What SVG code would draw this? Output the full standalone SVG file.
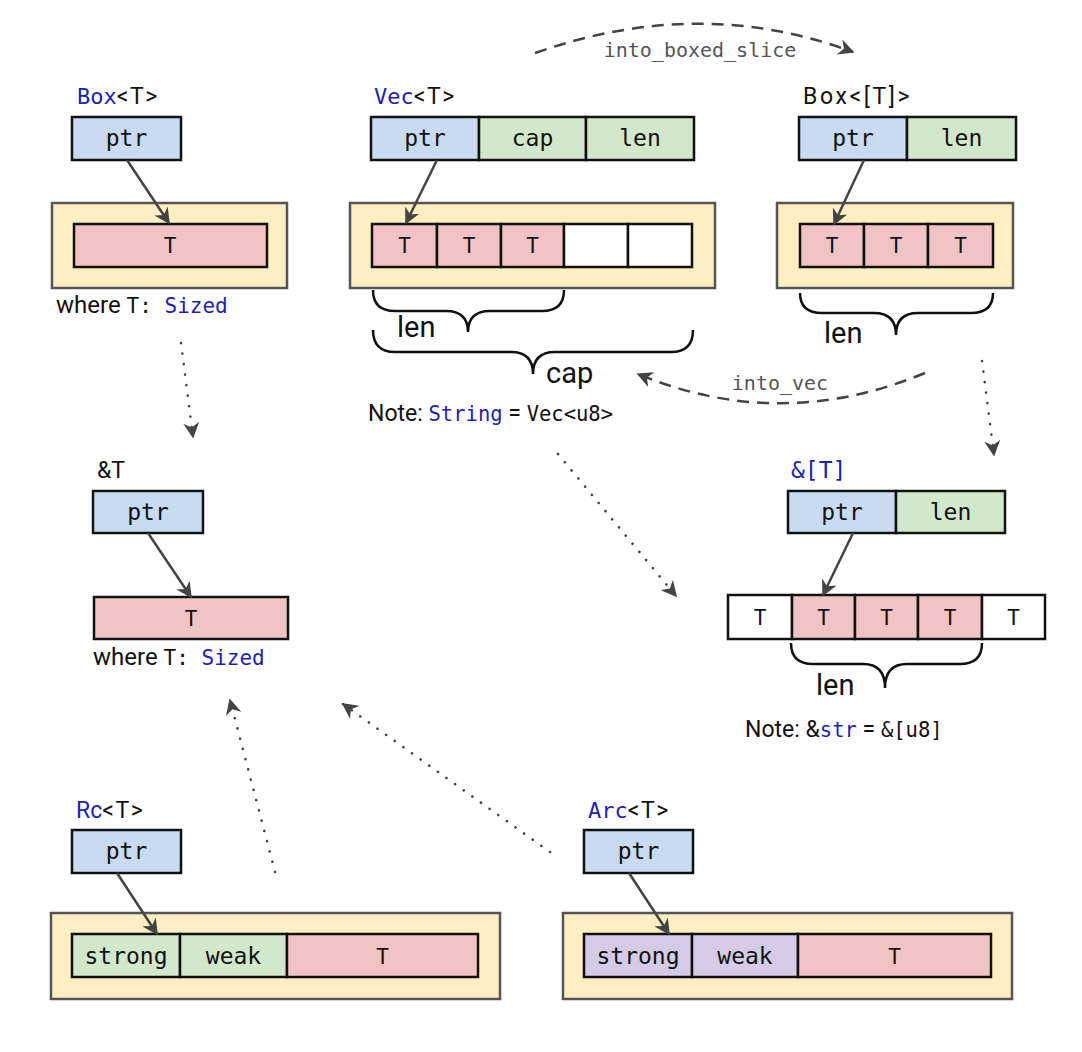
<svg xmlns="http://www.w3.org/2000/svg" width="1082" height="1052" viewBox="0 0 1082 1052">
<defs>
<style>
.bg{fill:#ffffff}
.heap{fill:#fdefc2;stroke:#555;stroke-width:2.5}
.c{stroke:#111;stroke-width:2.5}
.blue{fill:#c8dbf0}
.green{fill:#d2e8cb}
.pink{fill:#f2c3c5}
.white{fill:#ffffff}
.purple{fill:#d5cbe6}
.mono{font-family:"DejaVu Sans Mono","Liberation Mono",monospace}
.sans{font-family:Roboto,"Liberation Sans",sans-serif}
.f{font-size:23px;fill:#111}
.lbl{font-size:23px;fill:#111}
.ctr{text-anchor:middle}
.kw{fill:#1f1fb4}
.ptr{stroke:#444;stroke-width:2.5;fill:none;marker-end:url(#ah)}
.dot{stroke:#444;stroke-width:2.6;fill:none;stroke-dasharray:0.1 10.5;stroke-linecap:round;marker-end:url(#ah)}
.dash{stroke:#444;stroke-width:2.5;fill:none;stroke-dasharray:12 8;marker-end:url(#ah)}
.brace{stroke:#111;stroke-width:2.5;fill:none}
.big{font-size:29px;fill:#111}
.op{font-size:20px;fill:#555}
.cell{font-size:21px}
</style>
<marker id="ah" viewBox="0 0 10 10" refX="9" refY="5" markerWidth="16" markerHeight="16" markerUnits="userSpaceOnUse" orient="auto">
<path d="M0,0 L10,5 L0,10 L3,5 z" fill="#444"/>
</marker>
</defs>
<rect class="bg" x="0" y="0" width="1082" height="1052"/>

<g id="box-t">
<text class="lbl" x="77" y="104"><tspan class="mono kw" font-size="22">Box</tspan><tspan class="sans" letter-spacing="1.5">&lt;T&gt;</tspan></text>
<rect class="c blue" x="72" y="117" width="109" height="43"/>
<text class="mono f ctr" x="126.5" y="146">ptr</text>
<rect class="heap" x="52" y="203" width="235" height="85"/>
<rect class="c pink" x="74" y="224" width="193" height="43"/>
<text class="mono f ctr cell" x="170" y="253">T</text>
<text x="56" y="313" fill="#111"><tspan class="sans" font-size="24">where </tspan><tspan class="mono" font-size="21">T: </tspan><tspan class="mono kw" font-size="21">Sized</tspan></text>
</g>

<g id="vec-t">
<text class="lbl" x="374" y="104"><tspan class="mono kw" font-size="22">Vec</tspan><tspan class="sans" letter-spacing="1.5">&lt;T&gt;</tspan></text>
<rect class="c blue" x="371" y="117" width="108" height="43"/>
<rect class="c green" x="479" y="117" width="107" height="43"/>
<rect class="c green" x="586" y="117" width="108" height="43"/>
<text class="mono f ctr" x="425" y="146">ptr</text>
<text class="mono f ctr" x="532.5" y="146">cap</text>
<text class="mono f ctr" x="640" y="146">len</text>
<rect class="heap" x="350" y="203" width="365" height="85"/>
<rect class="c pink" x="372" y="224" width="65" height="43"/>
<rect class="c pink" x="437" y="224" width="64" height="43"/>
<rect class="c pink" x="501" y="224" width="63" height="43"/>
<rect class="c white" x="564" y="224" width="64" height="43"/>
<rect class="c white" x="628" y="224" width="64" height="43"/>
<text class="mono f ctr cell" x="404.5" y="253">T</text>
<text class="mono f ctr cell" x="469" y="253">T</text>
<text class="mono f ctr cell" x="532.5" y="253">T</text>
<path class="brace" d="M373,290 Q373,311 395,311 L446,311 Q468,311 468,332 Q468,311 490,311 L542,311 Q564,311 564,290"/>
<text class="sans big" x="397" y="337">len</text>
<path class="brace" d="M373,330 Q373,352 395,352 L511,352 Q533,352 533,374 Q533,352 555,352 L671,352 Q693,352 693,330"/>
<text class="sans big" x="546" y="383">cap</text>
<text x="368" y="421" fill="#111"><tspan class="sans" font-size="23">Note: </tspan><tspan class="mono kw" font-size="20.5">String</tspan><tspan class="sans" font-size="23"> = </tspan><tspan class="mono" font-size="20.5">Vec&lt;u8&gt;</tspan></text>
</g>

<g id="box-slice">
<text class="sans lbl" x="803" y="104" letter-spacing="2.6">Box&lt;[T]&gt;</text>
<rect class="c blue" x="799" y="117" width="108" height="43"/>
<rect class="c green" x="907" y="117" width="109" height="43"/>
<text class="mono f ctr" x="853" y="146">ptr</text>
<text class="mono f ctr" x="961.5" y="146">len</text>
<rect class="heap" x="777" y="203" width="236" height="85"/>
<rect class="c pink" x="800" y="224" width="64" height="43"/>
<rect class="c pink" x="864" y="224" width="64" height="43"/>
<rect class="c pink" x="928" y="224" width="65" height="43"/>
<text class="mono f ctr cell" x="832" y="253">T</text>
<text class="mono f ctr cell" x="896" y="253">T</text>
<text class="mono f ctr cell" x="960.5" y="253">T</text>
<path class="brace" d="M800,293 Q800,313 822,313 L874,313 Q896,313 896,335 Q896,313 918,313 L971,313 Q993,313 993,293"/>
<text class="sans big" x="824" y="343">len</text>
</g>

<g id="ref-t">
<text class="sans lbl" x="97" y="478">&amp;T</text>
<rect class="c blue" x="93" y="491" width="110" height="42"/>
<text class="mono f ctr" x="148" y="520">ptr</text>
<rect class="c pink" x="94" y="597" width="194" height="42"/>
<text class="mono f ctr cell" x="191" y="626">T</text>
<text x="93" y="665" fill="#111"><tspan class="sans" font-size="24">where </tspan><tspan class="mono" font-size="21">T: </tspan><tspan class="mono kw" font-size="21">Sized</tspan></text>
</g>

<g id="ref-slice">
<text class="mono lbl kw" x="791" y="478">&amp;[T]</text>
<rect class="c blue" x="788" y="491" width="108" height="42"/>
<rect class="c green" x="896" y="491" width="109" height="42"/>
<text class="mono f ctr" x="842" y="520">ptr</text>
<text class="mono f ctr" x="950.5" y="520">len</text>
<rect class="c white" x="728" y="595" width="64" height="44"/>
<rect class="c pink" x="792" y="595" width="63" height="44"/>
<rect class="c pink" x="855" y="595" width="63" height="44"/>
<rect class="c pink" x="918" y="595" width="64" height="44"/>
<rect class="c white" x="982" y="595" width="63" height="44"/>
<text class="mono f ctr cell" x="760" y="625">T</text>
<text class="mono f ctr cell" x="823.5" y="625">T</text>
<text class="mono f ctr cell" x="886.5" y="625">T</text>
<text class="mono f ctr cell" x="950" y="625">T</text>
<text class="mono f ctr cell" x="1013.5" y="625">T</text>
<path class="brace" d="M791,643 Q791,664 813,664 L863,664 Q885,664 885,688 Q885,664 907,664 L960,664 Q982,664 982,643"/>
<text class="sans big" x="816" y="695">len</text>
<text x="745" y="737" fill="#111"><tspan class="sans" font-size="23">Note: &amp;</tspan><tspan class="mono kw" font-size="20.5">str</tspan><tspan class="sans" font-size="23"> = </tspan><tspan class="mono" font-size="20.5">&amp;[u8]</tspan></text>
</g>

<g id="rc-t">
<text class="sans lbl" x="76" y="818"><tspan class="kw">Rc</tspan><tspan letter-spacing="1.5">&lt;T&gt;</tspan></text>
<rect class="c blue" x="72" y="830" width="109" height="43"/>
<text class="mono f ctr" x="126.5" y="859">ptr</text>
<rect class="heap" x="51" y="913" width="449" height="86"/>
<rect class="c green" x="72" y="934" width="108" height="43"/>
<rect class="c green" x="180" y="934" width="107" height="43"/>
<rect class="c pink" x="287" y="934" width="191" height="43"/>
<text class="mono f ctr" x="126" y="964">strong</text>
<text class="mono f ctr" x="233.5" y="964">weak</text>
<text class="mono f ctr cell" x="382.5" y="964">T</text>
</g>

<g id="arc-t">
<text class="lbl" x="588" y="818"><tspan class="mono kw" font-size="22">Arc</tspan><tspan class="sans" letter-spacing="1.5">&lt;T&gt;</tspan></text>
<rect class="c blue" x="584" y="830" width="109" height="43"/>
<text class="mono f ctr" x="638.5" y="859">ptr</text>
<rect class="heap" x="563" y="913" width="449" height="86"/>
<rect class="c purple" x="584" y="934" width="108" height="43"/>
<rect class="c purple" x="692" y="934" width="106" height="43"/>
<rect class="c pink" x="798" y="934" width="193" height="43"/>
<text class="mono f ctr" x="638" y="964">strong</text>
<text class="mono f ctr" x="745" y="964">weak</text>
<text class="mono f ctr cell" x="894.5" y="964">T</text>
</g>

<g id="connectors">
<path class="ptr" d="M127,160 L169,223"/>
<path class="ptr" d="M437,160 L406,223"/>
<path class="ptr" d="M864,160 L834,224"/>
<path class="ptr" d="M148,533 L191,597"/>
<path class="ptr" d="M853,533 L823,595"/>
<path class="ptr" d="M117,873 L157,934"/>
<path class="ptr" d="M629,873 L669,934"/>
<path class="dot" d="M181,343 L193,437"/>
<path class="dot" d="M982,361 L994,455"/>
<path class="dot" d="M558,454 L676,596"/>
<path class="dot" d="M275,872 L230,700"/>
<path class="dot" d="M550,852 L343,704"/>
<path class="dash" d="M535,53 Q700,-5 853,52"/>
<text class="mono op ctr" x="700" y="57">into_boxed_slice</text>
<path class="dash" d="M925,373 Q780,433 638,374"/>
<text class="mono op ctr" x="780" y="390">into_vec</text>
</g>
</svg>
